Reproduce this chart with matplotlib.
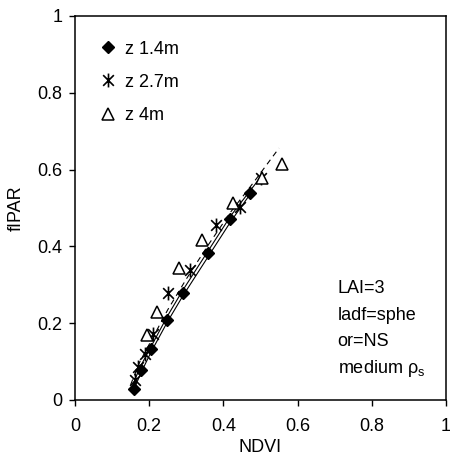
import numpy as np
import matplotlib
matplotlib.use("Agg")
import matplotlib.pyplot as plt
from matplotlib.path import Path
from matplotlib.ticker import FuncFormatter

plt.rcParams['font.family'] = ['Liberation Sans', 'DejaVu Sans']

# measured points
ndvi_14 = [0.159, 0.178, 0.205, 0.249, 0.292, 0.359, 0.419, 0.473]
fipar_14 = [0.029, 0.078, 0.133, 0.208, 0.279, 0.383, 0.471, 0.539]

ndvi_27 = [0.162, 0.171, 0.188, 0.211, 0.252, 0.311, 0.381, 0.446, 0.500]
fipar_27 = [0.052, 0.086, 0.120, 0.172, 0.278, 0.339, 0.456, 0.503, 0.578]

ndvi_4 = [0.195, 0.221, 0.279, 0.341, 0.427, 0.505, 0.559]
fipar_4 = [0.169, 0.229, 0.343, 0.417, 0.513, 0.578, 0.615]

# trend lines
line1_x = [0.155, 0.18, 0.205, 0.25, 0.29, 0.36, 0.42, 0.475]
line1_y = [0.020, 0.075, 0.125, 0.205, 0.270, 0.375, 0.465, 0.540]
line2_x = [0.150, 0.175, 0.20, 0.25, 0.29, 0.36, 0.42, 0.50]
line2_y = [0.025, 0.085, 0.130, 0.220, 0.285, 0.390, 0.480, 0.580]
line3_x = [0.150, 0.175, 0.20, 0.25, 0.30, 0.36, 0.42, 0.48, 0.55]
line3_y = [0.040, 0.100, 0.145, 0.235, 0.315, 0.405, 0.490, 0.565, 0.656]

ticks = [0, 0.2, 0.4, 0.6, 0.8, 1]
notes = ["LAI=3", "ladf=sphe", "or=NS", r"medium $\mathregular{\rho_s}$"]

# Excel-like star: X plus vertical bar
star = Path([(-1, -1), (1, 1), (-1, 1), (1, -1), (0, -1.3), (0, 1.3)],
            [Path.MOVETO, Path.LINETO, Path.MOVETO, Path.LINETO, Path.MOVETO, Path.LINETO])

fig = plt.figure(figsize=(4.5, 4.57), dpi=100)
ax = fig.add_axes([75 / 450, 1 - 400 / 457, 371 / 450, 384 / 457])

ax.plot(line1_x, line1_y, color='black', lw=0.8)
ax.plot(line2_x, line2_y, color='black', lw=0.8)
ax.plot(line3_x, line3_y, color='black', lw=0.8, ls=(0, (5, 4)))

ax.plot(ndvi_14, fipar_14, ls='none', marker='D', ms=6.5, color='black', label='z 1.4m')
ax.plot(ndvi_27, fipar_27, ls='none', marker=star, ms=10, mec='black', mew=1.2, label='z 2.7m')
ax.plot(ndvi_4, fipar_4, ls='none', marker='^', ms=9, mfc='white', mec='black', mew=1.1,
        label='z 4m')

ax.set_xlim(0, 1)
ax.set_ylim(0, 1)
ax.set_xticks(ticks)
ax.set_yticks(ticks)
fmt = FuncFormatter(lambda v, p: '%g' % v)
ax.xaxis.set_major_formatter(fmt)
ax.yaxis.set_major_formatter(fmt)
ax.tick_params(direction='out', length=4, width=1, labelsize=13, top=False, right=False)
ax.tick_params(axis='x', pad=9)
ax.tick_params(axis='y', pad=5)
for s in ax.spines.values():
    s.set_linewidth(1.1)

ax.set_xlabel('NDVI', fontsize=13, labelpad=3)
ax.set_ylabel('fIPAR', fontsize=13, labelpad=9)

ax.legend(loc='upper left', bbox_to_anchor=(0.045, 0.955), frameon=False, fontsize=13,
          handlelength=1.0, handletextpad=0.45, labelspacing=0.9, borderaxespad=0)

for i, t in enumerate(notes):
    ax.text(0.708, 0.29 - i * 0.069, t, fontsize=13, va='center', ha='left',
            transform=ax.transAxes)

fig.savefig('out.png', dpi=100)
